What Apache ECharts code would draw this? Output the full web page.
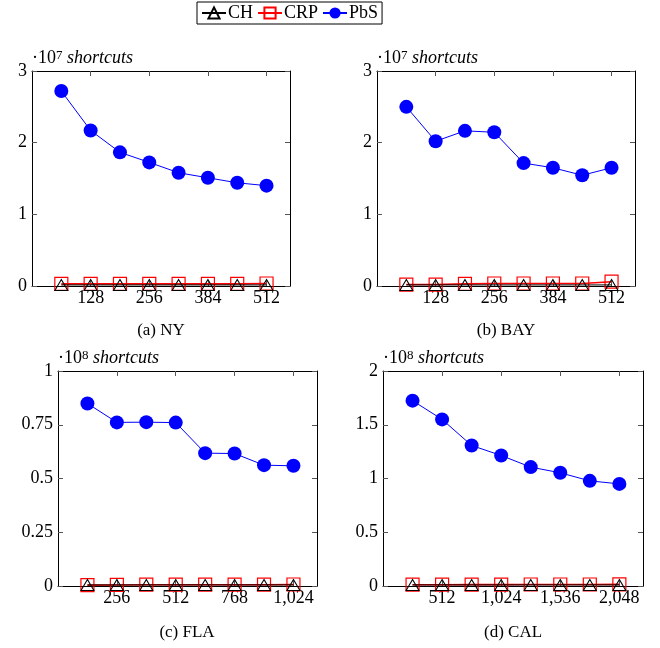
<!DOCTYPE html>
<html>
<head>
<meta charset="utf-8">
<script src="https://cdn.jsdelivr.net/npm/echarts@6/dist/echarts.min.js"></script>
<style>
html,body{margin:0;padding:0;background:#fff;}
#chart{width:660px;height:648px;}
</style>
</head>
<body>
<div id="chart"></div>
<script>
// ---- Data (y values in units of the panel's multiplier: 10^7 for NY/BAY, 10^8 for FLA/CAL) ----
const seriesNames = ['CH', 'CRP', 'PbS'];

const xNY = [64, 128, 192, 256, 320, 384, 448, 512];
const ticksNY = [128, 256, 384, 512];
const chNY  = [0.015, 0.015, 0.015, 0.015, 0.015, 0.015, 0.015, 0.015];
const crpNY = [0.03, 0.03, 0.03, 0.03, 0.03, 0.03, 0.03, 0.035];
const pbsNY = [2.72, 2.17, 1.865, 1.725, 1.58, 1.51, 1.44, 1.40];

const xBAY = [64, 128, 192, 256, 320, 384, 448, 512];
const ticksBAY = [128, 256, 384, 512];
const chBAY  = [0.015, 0.015, 0.015, 0.015, 0.015, 0.015, 0.015, 0.015];
const crpBAY = [0.02, 0.02, 0.03, 0.035, 0.035, 0.035, 0.035, 0.06];
const pbsBAY = [2.50, 2.02, 2.165, 2.145, 1.715, 1.65, 1.545, 1.65];

const xFLA = [128, 256, 384, 512, 640, 768, 896, 1024];
const ticksFLA = [256, 512, 768, 1024];
const chFLA  = [0.005, 0.005, 0.005, 0.005, 0.005, 0.005, 0.005, 0.005];
const crpFLA = [0.004, 0.005, 0.006, 0.006, 0.006, 0.006, 0.006, 0.007];
const pbsFLA = [0.849, 0.761, 0.762, 0.760, 0.618, 0.616, 0.562, 0.559];

const xCAL = [256, 512, 768, 1024, 1280, 1536, 1792, 2048];
const ticksCAL = [512, 1024, 1536, 2048];
const chCAL  = [0.01, 0.01, 0.01, 0.01, 0.01, 0.01, 0.01, 0.01];
const crpCAL = [0.012, 0.012, 0.013, 0.013, 0.014, 0.014, 0.014, 0.015];
const pbsCAL = [1.724, 1.550, 1.307, 1.214, 1.106, 1.053, 0.978, 0.950];

const yTicksNY = [0, 1, 2, 3];
const yTicksFLA = [0, 0.25, 0.5, 0.75, 1];
const yTicksCAL = [0, 0.5, 1, 1.5, 2];

const captions = ['(a) NY', '(b) BAY', '(c) FLA', '(d) CAL'];
const exponents = ['7', '7', '8', '8'];
// ---------------------------------------------------------------------------

const panels = [
  {x: xNY,  ticks: ticksNY,  yTicks: yTicksNY,  ch: chNY,  crp: crpNY,  pbs: pbsNY,
   grid: {left: 32, top: 71, width: 258, height: 215}, cap: [161, 331]},
  {x: xBAY, ticks: ticksBAY, yTicks: yTicksNY,  ch: chBAY, crp: crpBAY, pbs: pbsBAY,
   grid: {left: 377, top: 71, width: 258, height: 215}, cap: [506, 331]},
  {x: xFLA, ticks: ticksFLA, yTicks: yTicksFLA, ch: chFLA, crp: crpFLA, pbs: pbsFLA,
   grid: {left: 58, top: 371, width: 259, height: 215}, cap: [187, 633]},
  {x: xCAL, ticks: ticksCAL, yTicks: yTicksCAL, ch: chCAL, crp: crpCAL, pbs: pbsCAL,
   grid: {left: 383, top: 371, width: 260, height: 215}, cap: [513, 633]}
];

const FONT = 'Liberation Serif';
const tickColor = '#555';
const lineColor = '#000';

function fmtThousands(v) {
  return String(v).replace(/\B(?=(\d{3})+(?!\d))/g, ',');
}

const grids = [], xAxes = [], yAxes = [], series = [], graphics = [];

panels.forEach((p, i) => {
  grids.push(Object.assign({}, p.grid));
  const xMax = p.x[p.x.length - 1] * 1.1;
  const yMin = p.yTicks[0], yMax = p.yTicks[p.yTicks.length - 1];
  const yInt = p.yTicks[1] - p.yTicks[0];
  // bottom x axis
  xAxes.push({
    type: 'value', gridIndex: i, position: 'bottom', min: 0, max: xMax,
    axisLine: {show: true, onZero: false, lineStyle: {color: lineColor, width: 1}},
    axisTick: {show: true, inside: true, length: 5, customValues: p.ticks, lineStyle: {color: tickColor}},
    axisLabel: {show: true, customValues: p.ticks, margin: 3, color: '#000',
      fontFamily: FONT, fontSize: 18, formatter: v => fmtThousands(v)},
    splitLine: {show: false}
  });
  // left y axis
  yAxes.push({
    type: 'value', gridIndex: i, position: 'left', min: yMin, max: yMax, interval: yInt,
    name: '{dot|·10}{sup|' + exponents[i] + '} {it|shortcuts}',
    nameLocation: 'end', nameGap: 3,
    nameTextStyle: {
      align: 'left', verticalAlign: 'bottom', color: '#000', fontFamily: FONT, fontSize: 18,
      rich: {
        dot: {fontFamily: FONT, fontSize: 18, color: '#000'},
        sup: {fontFamily: FONT, fontSize: 13, color: '#000', verticalAlign: 'top', padding: [0, 0, 6, 0]},
        it: {fontFamily: FONT, fontSize: 18, fontStyle: 'italic', color: '#000'}
      }
    },
    axisLine: {show: true, lineStyle: {color: lineColor, width: 1}},
    axisTick: {show: true, inside: true, length: 5, lineStyle: {color: tickColor}},
    axisLabel: {show: true, margin: 5, color: '#000', fontFamily: FONT, fontSize: 18},
    splitLine: {show: false}
  });
  series.push(
    {
      name: 'CRP', type: 'line', xAxisIndex: i, yAxisIndex: i, z: 3,
      data: p.x.map((x, k) => [x, p.crp[k]]),
      symbol: 'rect', symbolSize: 13,
      lineStyle: {color: '#ff0000', width: 1.6},
      itemStyle: {color: 'rgba(255,255,255,0)', borderColor: '#ff0000', borderWidth: 1.2},
      emphasis: {disabled: true}, animation: false
    },
    {
      name: 'CH', type: 'line', xAxisIndex: i, yAxisIndex: i, z: 4,
      data: p.x.map((x, k) => [x, p.ch[k]]),
      symbol: 'triangle', symbolSize: [13, 11],
      lineStyle: {color: '#000', width: 1},
      itemStyle: {color: 'rgba(255,255,255,0)', borderColor: '#000', borderWidth: 1},
      emphasis: {disabled: true}, animation: false
    },
    {
      name: 'PbS', type: 'line', xAxisIndex: i, yAxisIndex: i, z: 5,
      data: p.x.map((x, k) => [x, p.pbs[k]]),
      symbol: 'circle', symbolSize: 14,
      lineStyle: {color: '#0000ff', width: 1},
      itemStyle: {color: '#0000ff', borderWidth: 0},
      emphasis: {disabled: true}, animation: false
    }
  );
  graphics.push({
    type: 'text', x: p.cap[0], y: p.cap[1],
    style: {text: captions[i], align: 'center', verticalAlign: 'middle',
      font: '17px "' + FONT + '"', fill: '#000'}
  });
});

// mirrored axes (top and right) for the box with inward ticks
panels.forEach((p, i) => {
  const xMax = p.x[p.x.length - 1] * 1.1;
  const yMin = p.yTicks[0], yMax = p.yTicks[p.yTicks.length - 1];
  const yInt = p.yTicks[1] - p.yTicks[0];
  xAxes.push({
    type: 'value', gridIndex: i, position: 'top', min: 0, max: xMax,
    axisLine: {show: true, onZero: false, lineStyle: {color: lineColor, width: 1}},
    axisTick: {show: true, inside: true, length: 5, customValues: p.ticks, lineStyle: {color: tickColor}},
    axisLabel: {show: false}, splitLine: {show: false}
  });
  yAxes.push({
    type: 'value', gridIndex: i, position: 'right', min: yMin, max: yMax, interval: yInt,
    axisLine: {show: true, onZero: false, lineStyle: {color: lineColor, width: 1}},
    axisTick: {show: true, inside: true, length: 5, lineStyle: {color: tickColor}},
    axisLabel: {show: false}, splitLine: {show: false}
  });
});

const chart = echarts.init(document.getElementById('chart'), null, {renderer: 'canvas'});
chart.setOption({
  backgroundColor: '#fff',
  animation: false,
  legend: {
    data: seriesNames, left: 197, top: 2, orient: 'horizontal',
    itemWidth: 24, itemHeight: 14, itemGap: 4,
    padding: [2, 4, 2, 4],
    borderColor: '#000', borderWidth: 1, borderRadius: 0,
    textStyle: {fontFamily: FONT, fontSize: 18, color: '#000', padding: [0, 0, 0, -3]},
    selectedMode: false
  },
  grid: grids,
  xAxis: xAxes,
  yAxis: yAxes,
  series: series,
  graphic: graphics
});
</script>
</body>
</html>
